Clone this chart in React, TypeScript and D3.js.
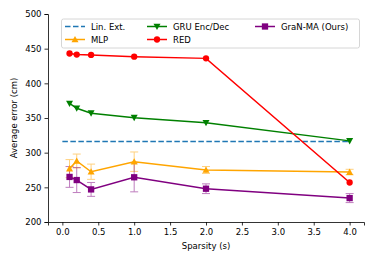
import React, { useEffect, useRef } from 'react';
import * as d3 from 'd3';

const sparsity = [0.1, 0.2, 0.4, 1.0, 2.0, 4.0];
const linExt = 316;
const gruVals = [371, 364, 357, 350.5, 343, 317];
const redVals = [443, 441.5, 441, 438.5, 436, 257];
const mlpVals = [277, 288, 272.5, 287, 275, 272];
const mlpErr = [13, 10, 11, 14, 5, 4];
const granVals = [265, 260.5, 247, 264.5, 248, 234.5];
const granErr = [15, 18, 10, 21, 7, 6.5];
const xTicks = [0, 0.5, 1, 1.5, 2, 2.5, 3, 3.5, 4];
const yTicks = [200, 250, 300, 350, 400, 450, 500];

const W = 374;
const H = 262;
const m = { left: 48, right: 10, top: 14, bottom: 40 };

const App = () => {
    const ref = useRef<SVGSVGElement>(null);

    useEffect(() => {
        const svg = d3.select(ref.current);
        svg.selectAll('*').remove();

        const x = d3.scaleLinear().domain([-0.2, 4.2]).range([m.left, W - m.right]);
        const y = d3.scaleLinear().domain([200, 500]).range([H - m.bottom, m.top]);
        const font = 'DejaVu Sans, sans-serif';

        const xAxis = svg.append('g')
            .attr('transform', `translate(0,${H - m.bottom})`)
            .call(d3.axisBottom(x).tickValues(xTicks).tickFormat(d3.format('.1f')).tickSize(3.5).tickPadding(3));
        const yAxis = svg.append('g')
            .attr('transform', `translate(${m.left},0)`)
            .call(d3.axisLeft(y).tickValues(yTicks).tickSize(3.5).tickPadding(3));
        [xAxis, yAxis].forEach(a => {
            a.selectAll('text').attr('font-family', font).attr('font-size', 8.5).attr('fill', '#000');
            a.selectAll('line').attr('stroke', '#000').attr('stroke-width', 0.8);
            a.select('.domain').attr('stroke', '#000').attr('stroke-width', 0.8);
        });

        svg.append('text').text('Sparsity (s)')
            .attr('x', (m.left + W - m.right) / 2).attr('y', 249)
            .attr('text-anchor', 'middle').attr('font-family', font).attr('font-size', 8.5);
        svg.append('text').text('Average error (cm)')
            .attr('transform', `translate(17,${(m.top + H - m.bottom) / 2}) rotate(-90)`)
            .attr('text-anchor', 'middle').attr('font-family', font).attr('font-size', 8.5);

        const line = d3.line<[number, number]>().x(d => x(d[0])).y(d => y(d[1]));

        // lin. ext.
        svg.append('path')
            .attr('d', line([[0, linExt], [4, linExt]]))
            .attr('stroke', '#1f77b4').attr('stroke-width', 1.5)
            .attr('stroke-dasharray', '5.5,2.5').attr('fill', 'none');

        const errBars = (vals: number[], errs: number[], color: string) => {
            const g = svg.append('g').attr('stroke', color).attr('stroke-width', 1).attr('opacity', 0.5);
            vals.forEach((v, i) => {
                const cx = x(sparsity[i]);
                g.append('line').attr('x1', cx).attr('x2', cx).attr('y1', y(v - errs[i])).attr('y2', y(v + errs[i]));
                [v - errs[i], v + errs[i]].forEach(e => {
                    g.append('line').attr('x1', cx - 4).attr('x2', cx + 4).attr('y1', y(e)).attr('y2', y(e));
                });
            });
        };
        errBars(mlpVals, mlpErr, 'orange');
        errBars(granVals, granErr, 'purple');

        const marker = (g: any, shape: string, cx: number, cy: number, color: string, s = 3.5) => {
            if (shape === 'tri') {
                g.append('path').attr('d', `M${cx},${cy - s}L${cx + s},${cy + s * 0.8}L${cx - s},${cy + s * 0.8}Z`).attr('fill', color);
            } else if (shape === 'tridown') {
                g.append('path').attr('d', `M${cx},${cy + s}L${cx + s},${cy - s * 0.8}L${cx - s},${cy - s * 0.8}Z`).attr('fill', color);
            } else if (shape === 'circle') {
                g.append('circle').attr('cx', cx).attr('cy', cy).attr('r', s * 0.9).attr('fill', color);
            } else {
                g.append('rect').attr('x', cx - s * 0.9).attr('y', cy - s * 0.9).attr('width', s * 1.8).attr('height', s * 1.8).attr('fill', color);
            }
        };

        const series = [
            { vals: mlpVals, color: 'orange', shape: 'tri' },
            { vals: granVals, color: 'purple', shape: 'square' },
            { vals: gruVals, color: 'green', shape: 'tridown' },
            { vals: redVals, color: 'red', shape: 'circle' },
        ];
        series.forEach(s => {
            const pts = s.vals.map((v, i) => [sparsity[i], v] as [number, number]);
            svg.append('path').attr('d', line(pts)).attr('stroke', s.color).attr('stroke-width', 1.5).attr('fill', 'none');
            const g = svg.append('g');
            pts.forEach(p => marker(g, s.shape, x(p[0]), y(p[1]), s.color));
        });

        // legend
        const lg = svg.append('g');
        lg.append('rect').attr('x', 61.5).attr('y', 19).attr('width', 298).attr('height', 29)
            .attr('rx', 2).attr('fill', 'white').attr('fill-opacity', 0.8).attr('stroke', '#ccc').attr('stroke-width', 0.8);
        const items = [
            { label: 'Lin. Ext.', color: '#1f77b4', shape: 'dash', lx: 65, row: 0 },
            { label: 'MLP', color: 'orange', shape: 'tri', lx: 65, row: 1 },
            { label: 'GRU Enc/Dec', color: 'green', shape: 'tridown', lx: 147, row: 0 },
            { label: 'RED', color: 'red', shape: 'circle', lx: 147, row: 1 },
            { label: 'GraN-MA (Ours)', color: 'purple', shape: 'square', lx: 255, row: 0 },
        ];
        items.forEach(it => {
            const ly = 26.5 + it.row * 13;
            const l = lg.append('line').attr('x1', it.lx).attr('x2', it.lx + 20).attr('y1', ly).attr('y2', ly)
                .attr('stroke', it.color).attr('stroke-width', 1.5);
            if (it.shape === 'dash') l.attr('stroke-dasharray', '5.5,2.5');
            else marker(lg, it.shape, it.lx + 10, ly, it.color);
            lg.append('text').text(it.label).attr('x', it.lx + 26).attr('y', ly + 3)
                .attr('font-family', font).attr('font-size', 8.5);
        });
    }, []);

    return <svg ref={ref} width={W} height={H} style={{ position: 'absolute', left: 0, top: 0 }} />;
};

export default App;
